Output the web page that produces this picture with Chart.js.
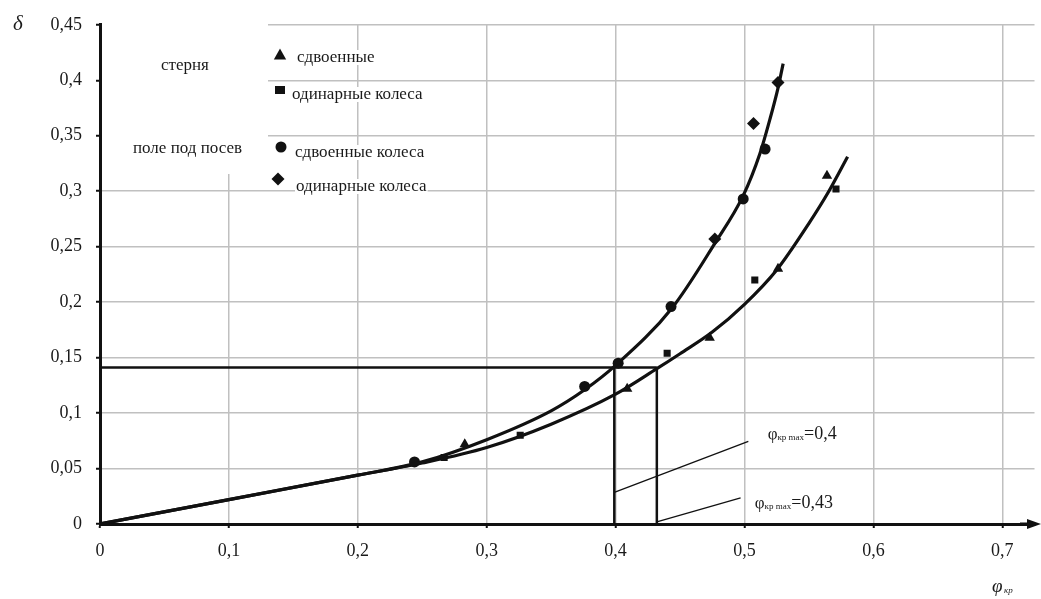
<!DOCTYPE html>
<html>
<head>
<meta charset="utf-8">
<script src="https://cdn.jsdelivr.net/npm/chart.js@4/dist/chart.umd.min.js"></script>
<style>
  html, body { margin: 0; padding: 0; background: #fff; }
  canvas { display: block; }
</style>
</head>
<body>
<canvas id="chart" width="1041" height="599"></canvas>
<script>
// Axis ticks
const xTicks = [0, 0.1, 0.2, 0.3, 0.4, 0.5, 0.6, 0.7];
const yTicks = [0, 0.05, 0.1, 0.15, 0.2, 0.25, 0.3, 0.35, 0.4, 0.45];

// Стерня: сдвоенные колеса (треугольники)
const stubbleDualX = [0.283, 0.409, 0.473, 0.526, 0.564];
const stubbleDualY = [0.072, 0.122, 0.168, 0.230, 0.314];
// Стерня: одинарные колеса (квадраты)
const stubbleSingleX = [0.267, 0.326, 0.440, 0.508, 0.571];
const stubbleSingleY = [0.060, 0.080, 0.154, 0.220, 0.302];
// Поле под посев: сдвоенные колеса (круги)
const fieldDualX = [0.244, 0.376, 0.402, 0.443, 0.499, 0.516];
const fieldDualY = [0.056, 0.124, 0.145, 0.196, 0.293, 0.338];
// Поле под посев: одинарные колеса (ромбы)
const fieldSingleX = [0.477, 0.507, 0.526];
const fieldSingleY = [0.257, 0.361, 0.398];

// Approximating curves
const fieldCurveX = [0, 0.1, 0.2, 0.25, 0.3, 0.35, 0.376, 0.4, 0.444, 0.477, 0.499, 0.512, 0.52, 0.526, 0.53];
const fieldCurveY = [0, 0.022, 0.044, 0.056, 0.076, 0.102, 0.121, 0.143, 0.195, 0.253, 0.296, 0.334, 0.366, 0.393, 0.415];
const stubbleCurveX = [0, 0.1, 0.2, 0.25, 0.3, 0.35, 0.4, 0.432, 0.45, 0.475, 0.5, 0.525, 0.55, 0.565, 0.58];
const stubbleCurveY = [0, 0.022, 0.044, 0.055, 0.069, 0.090, 0.117, 0.140, 0.1535, 0.173, 0.198, 0.229, 0.271, 0.299, 0.331];

// Critical slip construction
const slipLevel = 0.141;
const phiCritField = 0.399;
const phiCritStubble = 0.432;
const fieldCritTop = 0.143;

// Leader lines to the φкр max captions
const leaderFieldX = [0.399, 0.503];
const leaderFieldY = [0.0285, 0.0745];
const leaderStubbleX = [0.432, 0.497];
const leaderStubbleY = [0.002, 0.0235];

const pts = (xs, ys) => xs.map((x, i) => ({ x: x, y: ys[i] }));
const fmt = v => String(+v.toFixed(2)).replace('.', ',');

const INK = '#111';
const SERIF = '"Liberation Serif", "Times New Roman", serif';

function markerSet(data, style, radius) {
  return {
    type: 'scatter', data: data, showLine: false,
    pointStyle: style, pointRadius: radius, pointHoverRadius: radius,
    backgroundColor: INK, borderColor: INK, borderWidth: 0
  };
}
function lineSet(data, width, smooth) {
  return {
    type: 'line', data: data, showLine: true, pointRadius: 0,
    borderColor: INK, borderWidth: width, fill: false,
    cubicInterpolationMode: smooth ? 'monotone' : 'default', tension: 0
  };
}

function drawMarker(ctx, style, x, y, r) {
  ctx.save();
  ctx.fillStyle = INK;
  ctx.beginPath();
  if (style === 'triangle') {
    ctx.moveTo(x, y - r);
    ctx.lineTo(x + r * 0.95, y + r * 0.7);
    ctx.lineTo(x - r * 0.95, y + r * 0.7);
    ctx.closePath();
  } else if (style === 'rect') {
    ctx.rect(x - r, y - r * 0.8, 2 * r, 1.6 * r);
  } else if (style === 'circle') {
    ctx.arc(x, y, r, 0, Math.PI * 2);
  } else {
    ctx.moveTo(x, y - r); ctx.lineTo(x + r, y); ctx.lineTo(x, y + r); ctx.lineTo(x - r, y);
    ctx.closePath();
  }
  ctx.fill();
  ctx.restore();
}

function textOnWhite(ctx, txt, x, y) {
  const w = ctx.measureText(txt).width;
  ctx.fillStyle = '#fff';
  ctx.fillRect(x - 1, y - 8, w + 2, 15);
  ctx.fillStyle = '#1a1a1a';
  ctx.fillText(txt, x, y);
}

function phiCaption(ctx, x, y, sub, rest) {
  ctx.save();
  ctx.textBaseline = 'middle';
  ctx.textAlign = 'left';
  ctx.fillStyle = '#1a1a1a';
  ctx.font = '17px ' + SERIF;
  ctx.fillText('φ', x, y);
  let cx = x + ctx.measureText('φ').width;
  ctx.font = '9px ' + SERIF;
  ctx.fillText(sub, cx, y + 3);
  cx += ctx.measureText(sub).width;
  ctx.font = '18px ' + SERIF;
  ctx.fillText(rest, cx, y);
  ctx.restore();
}

const decor = {
  id: 'decor',
  beforeDatasetsDraw(chart) {
    const ctx = chart.ctx;
    // blank panel behind the group labels
    ctx.save();
    ctx.fillStyle = '#fff';
    ctx.fillRect(102, 23, 166, 151);
    ctx.restore();
  },
  afterDraw(chart) {
    const ctx = chart.ctx;
    const xs = chart.scales.x, ys = chart.scales.y;
    ctx.save();

    // arrow head of the φкр axis
    const ay = ys.getPixelForValue(0);
    ctx.fillStyle = INK;
    ctx.beginPath();
    ctx.moveTo(1041, ay);
    ctx.lineTo(1027, ay - 5);
    ctx.lineTo(1027, ay + 5);
    ctx.closePath();
    ctx.fill();
    ctx.fillRect(1020, ay - 1.5, 10, 3);

    // legend
    ctx.font = '17px ' + SERIF;
    ctx.textBaseline = 'middle';
    ctx.textAlign = 'left';
    ctx.fillStyle = '#1a1a1a';
    ctx.fillText('стерня', 161, 66);
    ctx.fillText('поле под посев', 133, 149);

    drawMarker(ctx, 'triangle', 280, 55, 6.5);
    textOnWhite(ctx, 'сдвоенные', 297, 58);
    drawMarker(ctx, 'rect', 280, 90, 5);
    textOnWhite(ctx, 'одинарные колеса', 292, 95);
    drawMarker(ctx, 'circle', 281, 147, 5.5);
    textOnWhite(ctx, 'сдвоенные колеса', 295, 153);
    drawMarker(ctx, 'diamond', 278, 179, 6.5);
    textOnWhite(ctx, 'одинарные колеса', 296, 187);

    // axis titles
    ctx.font = 'italic 21px ' + SERIF;
    ctx.textAlign = 'center';
    ctx.fillText('δ', 18, 24);
    ctx.textAlign = 'left';
    ctx.font = 'italic 19px ' + SERIF;
    ctx.fillText('φ', 992, 587);
    ctx.font = 'italic 9px ' + SERIF;
    ctx.fillText('кр', 1004, 591);

    // captions of the critical values
    phiCaption(ctx, xs.getPixelForValue(0.518), ys.getPixelForValue(0.0805), 'кр max', '=0,4');
    phiCaption(ctx, xs.getPixelForValue(0.508), ys.getPixelForValue(0.0188), 'кр max', '=0,43');

    ctx.restore();
  }
};

new Chart(document.getElementById('chart'), {
  type: 'scatter',
  data: {
    datasets: [
      lineSet(pts(fieldCurveX, fieldCurveY), 3.2, true),
      lineSet(pts(stubbleCurveX, stubbleCurveY), 3.2, true),
      lineSet([{ x: 0, y: slipLevel }, { x: phiCritStubble, y: slipLevel }], 2.5, false),
      lineSet([{ x: phiCritField, y: 0 }, { x: phiCritField, y: fieldCritTop }], 2.5, false),
      lineSet([{ x: phiCritStubble, y: 0 }, { x: phiCritStubble, y: slipLevel }], 2.5, false),
      lineSet(pts(leaderFieldX, leaderFieldY), 1.3, false),
      lineSet(pts(leaderStubbleX, leaderStubbleY), 1.3, false),
      markerSet(pts(stubbleDualX, stubbleDualY), 'triangle', 6),
      markerSet(pts(stubbleSingleX, stubbleSingleY), 'rect', 5),
      markerSet(pts(fieldDualX, fieldDualY), 'circle', 5.5),
      markerSet(pts(fieldSingleX, fieldSingleY), 'rectRot', 6.5)
    ]
  },
  options: {
    responsive: false,
    animation: false,
    events: [],
    layout: { padding: { top: 21, right: 6, left: 0, bottom: 0 } },
    plugins: { legend: { display: false }, tooltip: { enabled: false } },
    scales: {
      x: {
        type: 'linear', min: 0, max: 0.725,
        afterBuildTicks: s => { s.ticks = xTicks.map(v => ({ value: v })); },
        afterFit: s => { s.height = 75; },
        grid: { color: '#c0c0c0', lineWidth: 1.5, tickColor: INK, tickLength: 4, tickWidth: 2 },
        border: { color: INK, width: 3 },
        ticks: {
          callback: v => fmt(v), padding: 12, color: '#1a1a1a',
          font: { family: SERIF, size: 18 }, maxRotation: 0, autoSkip: false
        }
      },
      y: {
        type: 'linear', min: 0, max: 0.45,
        afterBuildTicks: s => { s.ticks = yTicks.map(v => ({ value: v })); },
        afterFit: s => { s.width = 100; },
        grid: { color: '#c0c0c0', lineWidth: 1.5, tickColor: INK, tickLength: 4, tickWidth: 2 },
        border: { color: INK, width: 3 },
        ticks: {
          callback: v => fmt(v), padding: 14, color: '#1a1a1a',
          font: { family: SERIF, size: 18 }, autoSkip: false
        }
      }
    }
  },
  plugins: [decor]
});
</script>
</body>
</html>
